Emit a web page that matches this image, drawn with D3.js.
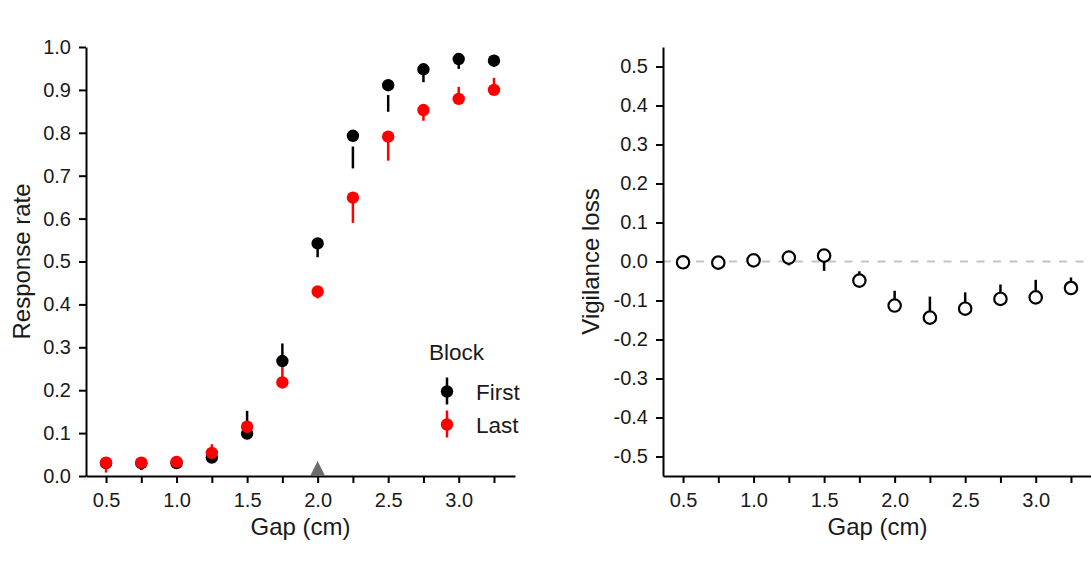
<!DOCTYPE html>
<html>
<head>
<meta charset="utf-8">
<script src="https://cdn.jsdelivr.net/npm/d3@7"></script>
<style>
  html, body { margin: 0; padding: 0; background: #ffffff; }
  svg { display: block; font-family: "Liberation Sans", Arial, sans-serif; }
  .axis path, .axis line { stroke: #000; stroke-width: 2; }
  .axis text { fill: #1a1a1a; font-size: 20px; font-family: "Liberation Sans", Arial, sans-serif; }
</style>
</head>
<body>
<svg id="chart" width="1091" height="565"></svg>
<script>
// Gap sizes (cm)
const gaps = [0.5, 0.75, 1.0, 1.25, 1.5, 1.75, 2.0, 2.25, 2.5, 2.75, 3.0, 3.25];

// Response rate, first block: mean and error-bar ends
const firstMean = [0.030, 0.030, 0.030, 0.043, 0.099, 0.268, 0.542, 0.793, 0.911, 0.948, 0.972, 0.968];
const firstLow  = [0.022, 0.014, 0.022, 0.035, 0.099, 0.268, 0.510, 0.717, 0.849, 0.918, 0.949, 0.955];
const firstHigh = [0.038, 0.031, 0.036, 0.050, 0.152, 0.309, 0.542, 0.768, 0.888, 0.948, 0.972, 0.975];

// Response rate, last block: mean and error-bar ends
const lastMean = [0.031, 0.031, 0.033, 0.054, 0.115, 0.218, 0.430, 0.649, 0.791, 0.853, 0.879, 0.900];
const lastLow  = [0.008, 0.025, 0.025, 0.054, 0.100, 0.218, 0.414, 0.590, 0.735, 0.828, 0.879, 0.900];
const lastHigh = [0.031, 0.031, 0.040, 0.074, 0.125, 0.254, 0.430, 0.649, 0.791, 0.853, 0.907, 0.928];

// Vigilance loss (last minus first): mean and error-bar ends
const lossMean = [-0.002, -0.003, 0.003, 0.010, 0.015, -0.049, -0.113, -0.144, -0.121, -0.096, -0.092, -0.068];
const lossLow  = [-0.002, -0.003, 0.003, -0.010, -0.024, -0.049, -0.113, -0.144, -0.121, -0.096, -0.092, -0.068];
const lossHigh = [-0.002, -0.003, 0.003, 0.010, 0.015, -0.025, -0.075, -0.090, -0.079, -0.059, -0.047, -0.041];

// Tick values
const xTicks = [0.5, 0.75, 1.0, 1.25, 1.5, 1.75, 2.0, 2.25, 2.5, 2.75, 3.0, 3.25];
const xLabels = [0.5, 1.0, 1.5, 2.0, 2.5, 3.0];
const rateTicks = [0, 0.1, 0.2, 0.3, 0.4, 0.5, 0.6, 0.7, 0.8, 0.9, 1.0];
const lossTicks = [-0.5, -0.4, -0.3, -0.2, -0.1, 0, 0.1, 0.2, 0.3, 0.4, 0.5];

// Threshold marker on the gap axis
const thresholdGap = [2.0];

// Legend entries
const blocks = ["First", "Last"];
const blockColors = ["#000000", "#ff0000"];

const svg = d3.select("#chart");
// one decimal, plain hyphen for negatives
const fmt = d3.formatLocale({ decimal: ".", thousands: ",", grouping: [3], currency: ["", ""], minus: "-" }).format(".1f");

const panelW = 429;
const plotTop = 47, plotBottom = 476;

function xAxisFor(x) {
  return d3.axisBottom(x)
    .tickValues(xTicks)
    .tickSizeInner(7).tickSizeOuter(0).tickPadding(10)
    .tickFormat(d => xLabels.some(v => Math.abs(v - d) < 1e-9) ? fmt(d) : "");
}

// ---------- Left panel: response rate ----------
const left = svg.append("g").attr("transform", "translate(86,0)");
const xL = d3.scaleLinear().domain([0.358, 3.399]).range([0, panelW]);
const yL = d3.scaleLinear().domain([0, 1]).range([plotBottom, plotTop]);

left.append("g").attr("class", "axis")
  .attr("transform", `translate(0,${plotBottom})`)
  .call(xAxisFor(xL));
left.append("g").attr("class", "axis")
  .call(d3.axisLeft(yL).tickValues(rateTicks).tickSizeInner(7).tickSizeOuter(0)
    .tickPadding(8).tickFormat(fmt));

// threshold triangle
left.selectAll("path.thr").data(thresholdGap).join("path")
  .attr("class", "thr")
  .attr("d", d => {
    const cx = xL(d);
    return `M${cx - 7.5},${plotBottom} L${cx},${plotBottom - 15} L${cx + 7.5},${plotBottom} Z`;
  })
  .attr("fill", "#6b6b6b");

function drawSeries(g, mean, lo, hi, color) {
  const data = gaps.map((x, i) => ({ x, m: mean[i], lo: lo[i], hi: hi[i] }));
  g.append("g").selectAll("line").data(data).join("line")
    .attr("x1", d => xL(d.x)).attr("x2", d => xL(d.x))
    .attr("y1", d => yL(d.lo)).attr("y2", d => yL(d.hi))
    .attr("stroke", color).attr("stroke-width", 2.5);
  g.append("g").selectAll("circle").data(data).join("circle")
    .attr("cx", d => xL(d.x)).attr("cy", d => yL(d.m))
    .attr("r", 6.2).attr("fill", color);
}
drawSeries(left, firstMean, firstLow, firstHigh, blockColors[0]);
drawSeries(left, lastMean, lastLow, lastHigh, blockColors[1]);

// axis titles
left.append("text")
  .attr("x", panelW / 2).attr("y", 535)
  .attr("text-anchor", "middle").attr("font-size", 24).attr("fill", "#1a1a1a")
  .text("Gap (cm)");
svg.append("text")
  .attr("transform", `translate(30,${(plotTop + plotBottom) / 2}) rotate(-90)`)
  .attr("text-anchor", "middle").attr("font-size", 24).attr("fill", "#1a1a1a")
  .text("Response rate");

// legend
const legend = svg.append("g").attr("transform", "translate(429,0)");
legend.append("text").attr("x", 0).attr("y", 360)
  .attr("font-size", 22.5).attr("fill", "#1a1a1a").text("Block");
const keyY = [391.5, 424.5];
blocks.forEach((b, i) => {
  const k = legend.append("g");
  k.append("line").attr("x1", 18).attr("x2", 18)
    .attr("y1", keyY[i] - 14).attr("y2", keyY[i] + 13)
    .attr("stroke", blockColors[i]).attr("stroke-width", 2.5);
  k.append("circle").attr("cx", 18).attr("cy", keyY[i]).attr("r", 6.2)
    .attr("fill", blockColors[i]);
  k.append("text").attr("x", 47).attr("y", keyY[i] + 8)
    .attr("font-size", 22.5).attr("fill", "#1a1a1a").text(b);
});

// ---------- Right panel: vigilance loss ----------
const right = svg.append("g").attr("transform", "translate(663,0)");
const xR = d3.scaleLinear().domain([0.358, 3.399]).range([0, panelW]);
const yR = d3.scaleLinear().domain([-0.55, 0.55]).range([plotBottom, plotTop]);

right.append("line")
  .attr("x1", 0).attr("x2", panelW)
  .attr("y1", yR(0)).attr("y2", yR(0))
  .attr("stroke", "#c4c4c4").attr("stroke-width", 2)
  .attr("stroke-dasharray", "8,8.5");

right.append("g").attr("class", "axis")
  .attr("transform", `translate(0,${plotBottom})`)
  .call(xAxisFor(xR));
right.append("g").attr("class", "axis")
  .call(d3.axisLeft(yR).tickValues(lossTicks).tickSizeInner(7).tickSizeOuter(0)
    .tickPadding(8).tickFormat(fmt));

const lossData = gaps.map((x, i) => ({ x, m: lossMean[i], lo: lossLow[i], hi: lossHigh[i] }));
right.append("g").selectAll("line").data(lossData).join("line")
  .attr("x1", d => xR(d.x)).attr("x2", d => xR(d.x))
  .attr("y1", d => yR(d.lo)).attr("y2", d => yR(d.hi))
  .attr("stroke", "#000").attr("stroke-width", 2.5);
right.append("g").selectAll("circle").data(lossData).join("circle")
  .attr("cx", d => xR(d.x)).attr("cy", d => yR(d.m))
  .attr("r", 6.2).attr("fill", "#fff").attr("stroke", "#000").attr("stroke-width", 2.2);

right.append("text")
  .attr("x", panelW / 2).attr("y", 535)
  .attr("text-anchor", "middle").attr("font-size", 24).attr("fill", "#1a1a1a")
  .text("Gap (cm)");
svg.append("text")
  .attr("transform", `translate(599,${(plotTop + plotBottom) / 2}) rotate(-90)`)
  .attr("text-anchor", "middle").attr("font-size", 24).attr("fill", "#1a1a1a")
  .text("Vigilance loss");
</script>
</body>
</html>
